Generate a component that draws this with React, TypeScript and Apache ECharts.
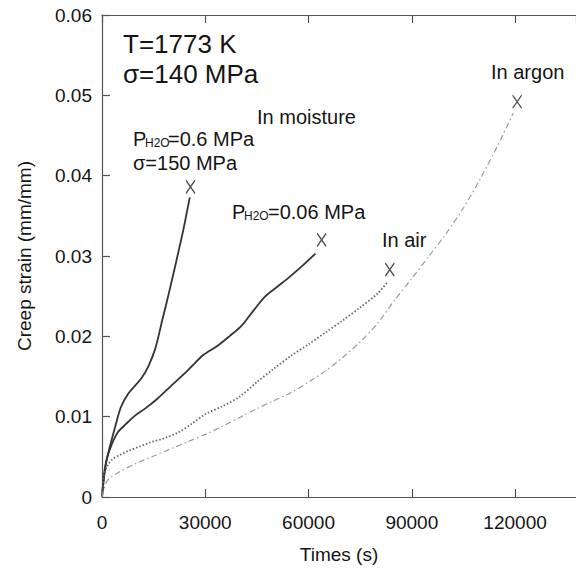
import React, { useEffect, useRef } from "react";
import * as echarts from "echarts";

// ---- data ----
const xTicks = [0, 30000, 60000, 90000, 120000];
const yTicks = [0, 0.01, 0.02, 0.03, 0.04, 0.05, 0.06];

const moist06Time = [0, 800, 2300, 4000, 5500, 7500, 9500, 11500, 13500, 15500, 17500, 19500, 21500, 23500, 25500];
const moist06Strain = [0, 0.0035, 0.0063, 0.009, 0.0112, 0.0128, 0.0138, 0.0148, 0.0163, 0.0185, 0.022, 0.0255, 0.0292, 0.033, 0.0373];

const moist006Time = [0, 1300, 2800, 4500, 7000, 9500, 12500, 16000, 20000, 25000, 29500, 33500, 37000, 40500, 44000, 47500, 51000, 54500, 58000, 62000];
const moist006Strain = [0, 0.0045, 0.0065, 0.008, 0.0091, 0.0101, 0.011, 0.0122, 0.0138, 0.0158, 0.0177, 0.0188, 0.02, 0.0213, 0.0232, 0.025, 0.0262, 0.0274, 0.0287, 0.0303];

const airTime = [0, 500, 1500, 3000, 5500, 8000, 11000, 14000, 18000, 22000, 26000, 30000, 35000, 40000, 45000, 50000, 55000, 60000, 65000, 70000, 75000, 80000, 83000];
const airStrain = [0, 0.0025, 0.0038, 0.0047, 0.0053, 0.0058, 0.0063, 0.0068, 0.0073, 0.008, 0.0091, 0.0103, 0.0113, 0.0125, 0.0143, 0.016, 0.0176, 0.019, 0.0205, 0.022, 0.0236, 0.0253, 0.0268];

const argonTime = [0, 1500, 5000, 10000, 15000, 20000, 25000, 30000, 35000, 40000, 45000, 50000, 55000, 60000, 65000, 70000, 75000, 80000, 85000, 90000, 95000, 100000, 105000, 110000, 115000, 119500];
const argonStrain = [0, 0.002, 0.0031, 0.0042, 0.0051, 0.006, 0.0069, 0.0078, 0.0088, 0.0099, 0.011, 0.012, 0.013, 0.0143, 0.0157, 0.0174, 0.0193, 0.0216, 0.0245, 0.0272, 0.03, 0.0328, 0.036, 0.0397, 0.0438, 0.0478];

const fractureTime = [25700, 63800, 83600, 120600];
const fractureStrain = [0.0386, 0.032, 0.0283, 0.0492];

const zip = (a: number[], b: number[]) => a.map((v, i) => [v, b[i]]);

const FONT = '"Liberation Sans", Arial, Helvetica, sans-serif';
const INK = "#151515";

function txt(text: string, x: number, y: number, size: number) {
  return {
    type: "text",
    x,
    y,
    silent: true,
    style: { text, fontSize: size, fontFamily: FONT, fill: INK, align: "left", verticalAlign: "middle" },
  };
}

export default function App() {
  const ref = useRef<HTMLDivElement>(null);
  useEffect(() => {
    if (!ref.current) return;
    const chart = echarts.init(ref.current, undefined, { renderer: "svg" });
    const axisLine = { show: true, lineStyle: { color: "#555", width: 1.2 } };
    const axisTick = { show: true, inside: true, length: 8, lineStyle: { color: "#555", width: 1.2 } };
    const xMax = 137700;
    chart.setOption({
      animation: false,
      backgroundColor: "#fff",
      grid: { left: 102, top: 15, right: 0, bottom: 76, containLabel: false },
      xAxis: [
        {
          type: "value",
          min: xTicks[0],
          max: xMax,
          interval: 30000,
          name: "Times (s)",
          nameLocation: "middle",
          nameGap: 48,
          nameTextStyle: { fontSize: 19, fontFamily: FONT, color: INK },
          axisLine,
          axisTick,
          splitLine: { show: false },
          axisLabel: {
            fontSize: 19,
            fontFamily: FONT,
            color: INK,
            margin: 16,
            showMaxLabel: false,
            formatter: (v: number) => (xTicks.includes(v) ? String(v) : ""),
          },
        },
        {
          type: "value",
          position: "top",
          min: xTicks[0],
          max: xMax,
          interval: 30000,
          axisLine,
          axisTick,
          axisLabel: { show: false },
          splitLine: { show: false },
        },
      ],
      yAxis: {
        type: "value",
        min: 0,
        max: 0.06,
        interval: 0.01,
        name: "Creep strain (mm/mm)",
        nameLocation: "middle",
        nameGap: 68,
        nameTextStyle: { fontSize: 19, fontFamily: FONT, color: INK },
        axisLine,
        axisTick,
        splitLine: { show: false },
        axisLabel: {
          fontSize: 19,
          fontFamily: FONT,
          color: INK,
          margin: 10,
          formatter: (v: number) => {
            const m = yTicks.find((t) => Math.abs(t - v) < 1e-9);
            return m === undefined ? "" : m === 0 ? "0" : m.toFixed(2);
          },
        },
      },
      series: [
        {
          type: "line",
          data: zip(moist06Time, moist06Strain),
          showSymbol: false,
          smooth: 0.3,
          lineStyle: { color: "#333", width: 1.8 },
        },
        {
          type: "line",
          data: zip(moist006Time, moist006Strain),
          showSymbol: false,
          smooth: 0.3,
          lineStyle: { color: "#333", width: 1.8 },
        },
        {
          type: "line",
          data: zip(airTime, airStrain),
          showSymbol: false,
          smooth: 0.3,
          lineStyle: { color: "#666", width: 1.8, type: [1.5, 2] },
        },
        {
          type: "line",
          data: zip(argonTime, argonStrain),
          showSymbol: false,
          smooth: 0.3,
          lineStyle: { color: "#9a9a9a", width: 1.2, type: [6, 3, 1.5, 3] },
        },
        {
          type: "scatter",
          data: zip(fractureTime, fractureStrain),
          symbol: "path://M0,0L10,14M10,0L0,14",
          symbolSize: [9, 13],
          itemStyle: { color: "none", borderColor: "#222", borderWidth: 1.4 },
          silent: true,
        },
      ],
      graphic: [
        txt("T=1773 K", 123, 44, 26),
        txt("σ=140 MPa", 123, 74, 26),
        txt("In moisture", 257, 117, 20),
        txt("P", 133, 139, 20),
        txt("H2O", 145, 143, 12),
        txt("=0.6 MPa", 168, 139, 20),
        txt("σ=150 MPa", 133, 163, 20),
        txt("P", 232, 212, 20),
        txt("H2O", 244, 216, 12),
        txt("=0.06 MPa", 268, 212, 20),
        txt("In air", 382, 240, 20),
        txt("In argon", 491, 72, 20),
      ],
    });
    return () => chart.dispose();
  }, []);
  return (
    <div
      ref={ref}
      style={{ position: "fixed", left: 0, top: 0, width: 576, height: 573, background: "#fff" }}
    />
  );
}
